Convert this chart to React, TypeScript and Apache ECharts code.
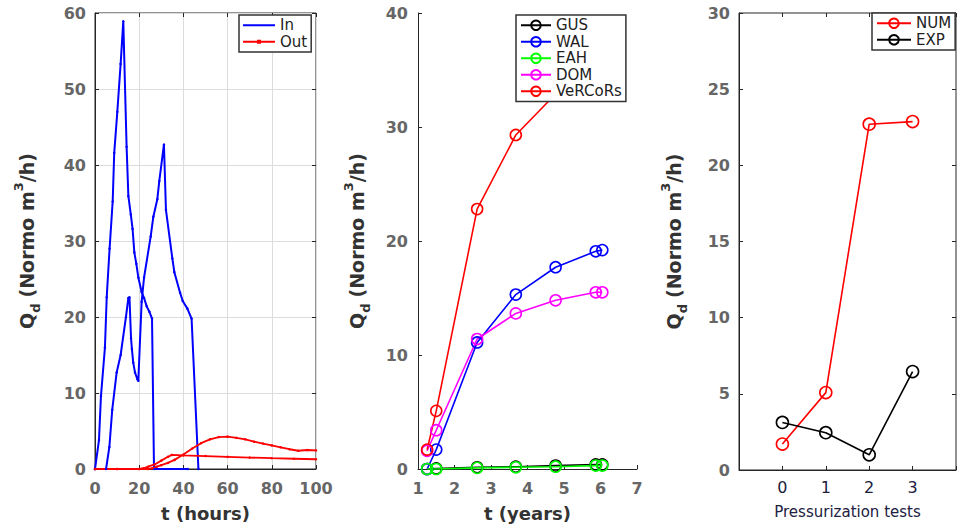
import React, { useEffect, useRef } from "react";
import * as echarts from "echarts";

// ---------- Panel 1 : t (hours) ----------
const hoursIn1 = [0, 1.8, 2.7, 4.5, 5.3, 6.6, 8.0, 8.7, 10.1, 11.6, 12.8, 14.3, 15.1, 16.2, 17.0, 17.8, 18.7, 19.6, 21.1, 22.2, 23.4, 24.6, 25.8, 26.7, 42];
const qIn1 = [0, 3.8, 9.6, 16.0, 22.6, 29.0, 35.2, 41.6, 47.0, 53.3, 58.9, 42.4, 35.9, 33.5, 31.6, 28.5, 27.0, 25.2, 23.3, 22.5, 21.4, 20.7, 19.8, 0, 0];
const hoursIn2 = [0, 5.0, 6.5, 7.8, 9.8, 11.6, 14.0, 15.1, 15.6, 16.3, 16.7, 17.3, 18.1, 19.2, 19.6, 21.1, 22.2, 25.2, 26.4, 28.2, 29.1, 31.2, 32.1, 35.0, 35.9, 38.5, 39.7, 41.8, 43.7, 46.8];
const qIn2 = [0, 0, 2.9, 7.8, 12.7, 15.0, 20.0, 22.5, 22.6, 17.2, 15.8, 14.0, 12.7, 11.8, 11.6, 22.0, 25.2, 30.6, 33.2, 35.5, 37.9, 42.7, 34.1, 27.7, 25.9, 23.2, 22.1, 21.1, 19.8, 0];
const hoursOut1 = [0, 10, 20, 22, 24, 27, 30, 33, 34.7, 40, 50, 60, 70, 80, 90, 100];
const qOut1 = [0, 0, 0, 0.1, 0.3, 0.6, 1.1, 1.6, 1.85, 1.78, 1.7, 1.6, 1.5, 1.42, 1.35, 1.28];
const hoursOut2 = [0, 10, 20, 24, 26, 28, 30, 33, 36, 40, 44, 48, 52, 56, 60, 64, 68, 72, 76, 80, 84, 88, 92, 96, 100];
const qOut2 = [0, 0, 0, 0, 0.1, 0.3, 0.5, 0.8, 1.2, 1.9, 2.7, 3.4, 3.9, 4.2, 4.25, 4.1, 3.9, 3.6, 3.35, 3.1, 2.85, 2.6, 2.4, 2.5, 2.45];

// ---------- Panel 2 : t (years) ----------
const years = [1.25, 1.5, 2.62, 3.68, 4.77, 5.87, 6.05];
const qGUS = [0, 0.05, 0.15, 0.2, 0.3, 0.4, 0.4];
const qWAL = [0, 1.7, 11.1, 15.3, 17.7, 19.1, 19.2];
const qEAH = [0, 0, 0.1, 0.15, 0.2, 0.3, 0.3];
const qDOM = [1.6, 3.4, 11.4, 13.65, 14.8, 15.5, 15.5];
const qVeRCoRs = [1.7, 5.1, 22.8, 29.3, 32.9, 35.5, 35.7];

// ---------- Panel 3 : pressurization tests ----------
const tests = [0, 1, 2, 3];
const qNUM = [1.7, 5.08, 22.7, 22.87];
const qEXP = [3.12, 2.45, 1.0, 6.46];

const pairs = (xs: number[], ys: number[]) => xs.map((x, i) => [x, ys[i]]);

const FONT = "DejaVu Sans";
const AX = "#262626";

const tickLabel = { fontFamily: FONT, fontWeight: "bold" as const, fontSize: 16, color: "#666" };
const xNameStyle = { fontFamily: FONT, fontWeight: "bold" as const, fontSize: 18, color: "#333" };

const yNameText = "{m|Q}{s|d}{m|(Normo m}{p|3}{m|/h)}";
const yNameStyle = {
  rich: {
    m: { fontFamily: FONT, fontWeight: "bold" as const, fontSize: 19, color: "#333", lineHeight: 30 },
    s: { fontFamily: FONT, fontWeight: "bold" as const, fontSize: 13, color: "#333", lineHeight: 12, verticalAlign: "bottom" as const, padding: [0, 6, 0, 0] },
    p: { fontFamily: FONT, fontWeight: "bold" as const, fontSize: 13, color: "#333", lineHeight: 12, verticalAlign: "top" as const },
  },
};

const tickIn = { show: true, inside: true, length: 4, lineStyle: { color: AX, width: 1 } };
const axLine = { show: true, onZero: false, lineStyle: { color: AX, width: 1 } };

function mirrorAxis(gridIndex: number, position: string, min: number, max: number, interval: number) {
  return {
    type: "value",
    gridIndex,
    position,
    min,
    max,
    interval,
    axisLine: { show: false, onZero: false },
    axisTick: tickIn,
    axisLabel: { show: false },
    splitLine: { show: false },
  };
}

const legendBase = {
  orient: "vertical" as const,
  backgroundColor: "#fff",
  borderColor: "#333",
  borderWidth: 1.5,
  borderRadius: 0,
  padding: [2, 4, 2, 4],
  itemGap: 0,
  itemWidth: 30,
  itemHeight: 12,
  selectedMode: false,
  textStyle: { fontFamily: FONT, fontSize: 15, color: "#222", lineHeight: 16.5 },
};

function markerLine(name: string, color: string, xs: number[], ys: number[], xi: number, yi: number, size: number) {
  return {
    type: "line",
    name,
    xAxisIndex: xi,
    yAxisIndex: yi,
    data: pairs(xs, ys),
    color,
    symbol: "circle",
    symbolSize: size,
    showSymbol: true,
    lineStyle: { color, width: 1.6 },
    itemStyle: { color: "rgba(255,255,255,0)", borderColor: color, borderWidth: 1.6 },
    emphasis: { disabled: true },
  };
}

function dotLine(name: string, color: string, xs: number[], ys: number[], width: number) {
  return {
    type: "line",
    name,
    xAxisIndex: 0,
    yAxisIndex: 0,
    data: pairs(xs, ys),
    color,
    symbol: "circle",
    symbolSize: 2.5,
    showSymbol: true,
    lineStyle: { color, width },
    itemStyle: { color },
    emphasis: { disabled: true },
  };
}

const option = {
  animation: false,
  backgroundColor: "#fff",
  grid: [
    { left: 95, top: 13, width: 221, height: 456, show: true, borderColor: AX, borderWidth: 1, backgroundColor: "transparent" },
    { left: 418, top: 13, width: 219, height: 456, show: false },
    { left: 739, top: 13, width: 219, height: 457, show: true, borderColor: AX, borderWidth: 1, backgroundColor: "transparent" },
  ],
  xAxis: [
    {
      type: "value", gridIndex: 0, min: 0, max: 100, interval: 20, position: "bottom",
      axisLine: axLine,
      axisTick: tickIn,
      splitLine: { show: true, lineStyle: { color: "#dcdcdc", width: 1 } },
      axisLabel: { ...tickLabel, margin: 11, showMinLabel: true, showMaxLabel: true },
      name: "t (hours)", nameLocation: "middle", nameGap: 35, nameTextStyle: xNameStyle,
    },
    mirrorAxis(0, "top", 0, 100, 20),
    {
      type: "value", gridIndex: 1, min: 1, max: 7, interval: 1, position: "bottom",
      axisLine: axLine,
      axisTick: tickIn,
      splitLine: { show: false },
      axisLabel: { ...tickLabel, margin: 11, showMinLabel: true, showMaxLabel: true },
      name: "t (years)", nameLocation: "middle", nameGap: 35, nameTextStyle: xNameStyle,
    },
    {
      type: "value", gridIndex: 2, min: -1, max: 4, interval: 1, position: "bottom",
      axisLine: axLine,
      axisTick: tickIn,
      splitLine: { show: false },
      axisLabel: {
        fontFamily: FONT, fontSize: 16, color: "#202040", margin: 9,
        showMinLabel: true, showMaxLabel: true,
        formatter: (v: number) => (v < 0 || v > 3 ? "" : String(v)),
      },
      name: "Pressurization tests", nameLocation: "middle", nameGap: 34,
      nameTextStyle: { fontFamily: FONT, fontSize: 15, color: "#202040" },
    },
    mirrorAxis(2, "top", -1, 4, 1),
  ],
  yAxis: [
    {
      type: "value", gridIndex: 0, min: 0, max: 60, interval: 10, position: "left",
      axisLine: axLine,
      axisTick: tickIn,
      splitLine: { show: true, lineStyle: { color: "#dcdcdc", width: 1 } },
      axisLabel: { ...tickLabel, margin: 9, showMinLabel: true, showMaxLabel: true },
      name: yNameText, nameLocation: "middle", nameGap: 53, nameTextStyle: yNameStyle,
    },
    mirrorAxis(0, "right", 0, 60, 10),
    {
      type: "value", gridIndex: 1, min: 0, max: 40, interval: 10, position: "left",
      axisLine: axLine,
      axisTick: tickIn,
      splitLine: { show: false },
      axisLabel: { ...tickLabel, margin: 10, showMinLabel: true, showMaxLabel: true },
      name: yNameText, nameLocation: "middle", nameGap: 46, nameTextStyle: yNameStyle,
    },
    {
      type: "value", gridIndex: 2, min: 0, max: 30, interval: 5, position: "left",
      axisLine: axLine,
      axisTick: tickIn,
      splitLine: { show: false },
      axisLabel: { ...tickLabel, margin: 9, showMinLabel: true, showMaxLabel: true },
      name: yNameText, nameLocation: "middle", nameGap: 50, nameTextStyle: yNameStyle,
    },
    mirrorAxis(2, "right", 0, 30, 5),
  ],
  legend: [
    {
      ...legendBase,
      left: 239,
      top: 15,
      itemWidth: 32,
      data: [
        { name: "In", icon: "path://M0 0H32V2H0Z", itemStyle: { color: "#0000ff", borderWidth: 0 } },
        { name: "Out", icon: "path://M0 1H32V3H0Z M14 0H18V4H14Z", itemStyle: { color: "#ff0000", borderWidth: 0 } },
      ],
    },
    {
      ...legendBase,
      left: 516,
      top: 15,
      data: ["GUS", "WAL", "EAH", "DOM", "VeRCoRs"],
    },
    {
      ...legendBase,
      left: 872,
      top: 13,
      itemWidth: 34,
      data: ["NUM", "EXP"],
    },
  ],
  series: [
    dotLine("In", "#0000ff", hoursIn1, qIn1, 2),
    dotLine("In", "#0000ff", hoursIn2, qIn2, 2),
    dotLine("Out", "#ff0000", hoursOut1, qOut1, 1.8),
    dotLine("Out", "#ff0000", hoursOut2, qOut2, 1.8),
    markerLine("GUS", "#000000", years, qGUS, 2, 2, 11),
    markerLine("WAL", "#0000ff", years, qWAL, 2, 2, 11),
    markerLine("EAH", "#00ff00", years, qEAH, 2, 2, 11),
    markerLine("DOM", "#ff00ff", years, qDOM, 2, 2, 11),
    markerLine("VeRCoRs", "#ff0000", years, qVeRCoRs, 2, 2, 11),
    markerLine("NUM", "#ff0000", tests, qNUM, 3, 3, 12),
    markerLine("EXP", "#000000", tests, qEXP, 3, 3, 12),
  ],
};

export default function App() {
  const ref = useRef<HTMLDivElement>(null);
  useEffect(() => {
    if (!ref.current) return;
    const chart = echarts.init(ref.current, null, { renderer: "svg" });
    chart.setOption(option as any);
    return () => chart.dispose();
  }, []);
  return (
    <div
      ref={ref}
      style={{ position: "fixed", left: 0, top: 0, width: 959, height: 531, background: "#fff" }}
    />
  );
}
